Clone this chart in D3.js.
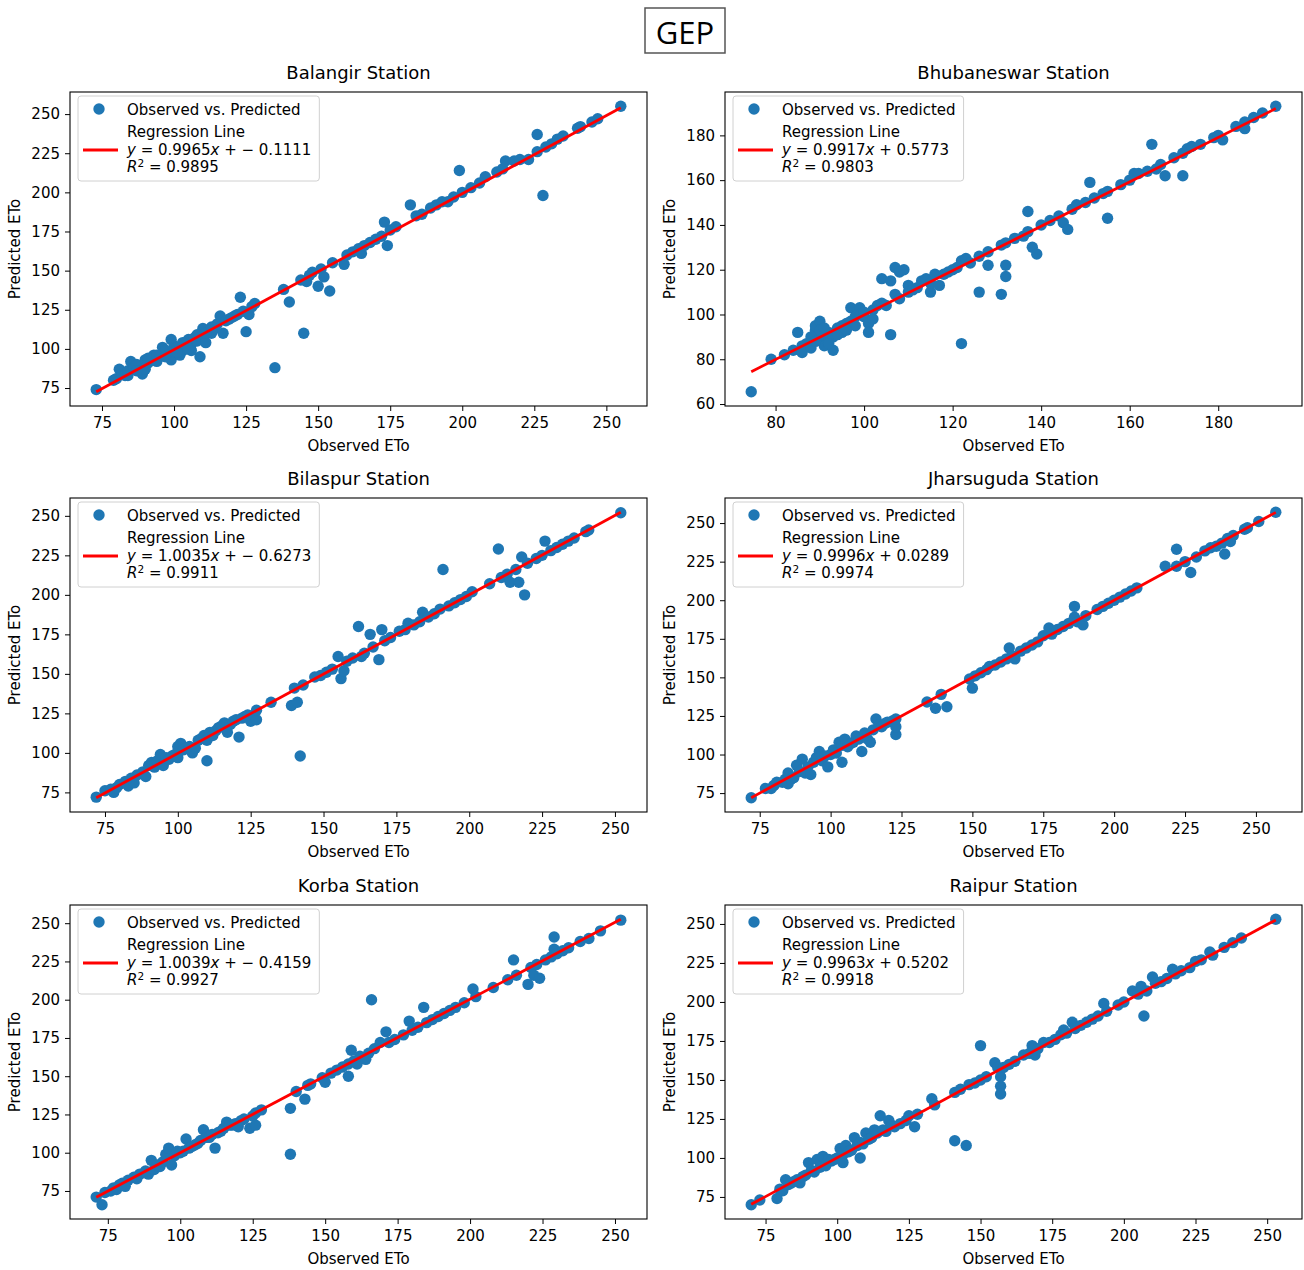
<!DOCTYPE html>
<meta charset='utf-8'>
<title>GEP</title>
<style>
html, body { margin: 0; padding: 0; background: #fff; }
text { font-family: 'DejaVu Sans', sans-serif; fill: #000; }
</style>
<script src='https://cdn.jsdelivr.net/npm/d3@7'></script>
<body>
<svg id='chart' width='1304' height='1270'></svg>
<script>
// Observed vs predicted pairs
var balangir = [[73,74],[79,80],[80,81],[81,87],[82,84],[83,83],[84,86],[85,92],[86,88],[87,90],[88,86],[89,84],[90,87],[90,93],[91,91],[92,93],[93,96],[94,92],[95,95],[96,97],[96,101],[97,99],[98,96],[99,106],[99,93],[100,98],[100,102],[101,101],[102,96],[103,99],[104,104],[105,106],[106,99],[106,103],[107,107],[108,105],[109,95],[110,109],[110,113],[111,104],[112,111],[113,110],[114,113],[115,116],[116,121],[117,110],[118,118],[119,119],[120,120],[121,121],[122,122],[123,133],[124,124],[125,111],[126,122],[127,127],[128,129],[135,88],[138,138],[140,130],[144,144],[145,110],[146,143],[147,147],[148,149],[150,140],[151,151],[152,146],[154,137],[155,155],[159,154],[160,160],[162,162],[164,164],[165,161],[166,166],[168,168],[170,170],[172,172],[173,181],[174,166],[175,176],[177,178],[182,192],[184,185],[186,186],[189,190],[191,192],[193,194],[195,194],[197,197],[199,214],[200,200],[203,203],[206,206],[208,210],[212,213],[214,215],[215,220],[218,220],[220,221],[223,221],[226,237],[226,226],[228,198],[229,229],[231,231],[233,234],[235,236],[240,241],[241,242],[245,245],[247,247],[255,255],
  [84,83],[87,86],[91,94],[94,96],[97,95],[101,98],[103,104],[105,100],[108,109],[111,110],[113,114]];

var bhubaneswar = [[74.5,65.5],[79,80],[82,82],[84,84],[85,92],[86,86],[86,83],[87,87],[88,85],[89,93],[89,95],[90,97],[90,89],[91,91],[91,86],[92,88],[92,92],[93,84],[93,90],[94,94],[95,92],[96,96],[97,97],[97,103],[98,95],[99,103],[99,100],[100,99],[101,96],[101,92],[102,102],[102,98],[103,104],[104,116],[104,105],[105,104],[106,115],[106,91],[107,109],[107,121],[108,119],[108,107],[109,120],[110,113],[110,110],[111,111],[112,112],[113,115],[114,116],[115,110],[115,114],[116,118],[117,113],[118,118],[119,119],[120,120],[121,121],[122,124],[122,87],[123,125],[124,123],[126,110],[126,126],[128,122],[128,128],[131,109],[131,131],[132,122],[132,117],[132,132],[134,134],[136,135],[137,146],[137,137],[138,130],[139,127],[140,140],[142,142],[144,144],[145,141],[146,138],[147,147],[148,149],[150,150],[151,159],[152,152],[154,154],[155,143],[155,155],[158,158],[160,160],[161,163],[162,163],[164,164],[165,176],[166,165],[167,167],[168,162],[170,170],[172,172],[172,162],[173,174],[174,175],[176,176],[179,179],[180,180],[181,178],[184,184],[186,186],[186,183],[188,188],[190,190],[193,193],
  [88,90],[89,88],[90,93],[91,94],[92,87],[94,91],[95,95],[96,93],[98,99],[100,101]];

var bilaspur = [[72,72],[75,76],[77,77],[78,75],[79,78],[80,80],[82,82],[83,79],[84,84],[85,81],[86,86],[88,88],[89,85],[90,92],[91,94],[92,91],[93,95],[94,99],[95,92],[96,97],[97,96],[98,98],[99,99],[100,104],[100,97],[101,106],[102,102],[103,103],[104,104],[105,100],[106,103],[107,108],[108,109],[109,111],[110,95],[110,108],[111,113],[112,111],[113,114],[114,116],[115,117],[116,119],[117,113],[118,118],[119,120],[120,121],[121,110],[122,122],[123,123],[124,124],[125,120],[126,124],[127,121],[127,127],[132,132],[139,130],[140,141],[141,132],[142,98],[143,143],[147,148],[149,149],[151,151],[153,153],[155,161],[156,147],[157,152],[158,158],[160,160],[162,180],[163,161],[164,163],[166,175],[167,167],[169,159],[170,178],[171,171],[173,173],[176,177],[178,178],[179,182],[181,181],[183,183],[184,189],[186,186],[188,188],[190,191],[191,216],[193,193],[195,195],[197,197],[199,199],[201,202],[207,207],[210,229],[211,211],[213,213],[214,208],[216,216],[217,208],[218,224],[219,200],[220,220],[223,223],[225,225],[226,234],[228,228],[230,230],[232,232],[234,234],[236,236],[240,240],[241,241],[252,252]];

var jharsuguda = [[72,72],[77,78],[79,78],[80,80],[81,82],[83,82],[84,84],[85,88],[85,81],[86,84],[87,85],[88,93],[89,89],[90,97],[91,88],[92,92],[93,87],[94,95],[95,98],[96,102],[97,96],[98,99],[99,92],[100,100],[101,103],[102,101],[103,108],[104,95],[104,106],[105,110],[106,105],[107,107],[108,108],[109,112],[110,110],[111,102],[112,114],[113,110],[114,108],[115,116],[116,123],[117,119],[118,118],[119,120],[120,121],[122,122],[123,113],[123,118],[123,123],[134,134],[137,130],[139,139],[141,131],[149,149],[150,143],[151,151],[153,153],[155,155],[156,157],[158,158],[160,160],[162,162],[163,169],[164,164],[165,162],[167,167],[169,169],[171,171],[173,173],[175,177],[177,182],[178,178],[180,181],[182,183],[184,185],[186,196],[186,189],[187,186],[189,184],[190,190],[194,194],[196,196],[198,198],[200,200],[202,202],[204,204],[206,206],[208,208],[218,222],[222,233],[222,222],[225,225],[227,218],[229,228],[232,232],[234,234],[236,235],[238,237],[239,230],[240,240],[241,238],[242,242],[246,246],[247,247],[251,251],[257,257]];

var korba = [[71,71],[73,66],[74,74],[76,75],[77,77],[78,76],[79,79],[80,80],[81,78],[82,82],[84,84],[85,83],[86,86],[88,88],[89,86],[90,95],[91,89],[92,92],[93,91],[94,94],[95,99],[96,103],[97,92],[98,98],[99,101],[100,100],[101,101],[102,109],[103,103],[104,104],[105,105],[106,106],[107,108],[108,115],[109,110],[110,110],[111,112],[112,103],[113,113],[114,114],[115,116],[116,120],[117,118],[118,118],[119,119],[120,117],[121,121],[122,122],[124,116],[125,124],[126,118],[126,126],[128,128],[138,99],[138,129],[140,140],[143,135],[144,144],[145,145],[149,149],[150,146],[152,152],[154,154],[156,156],[158,150],[158,158],[159,167],[160,160],[161,158],[162,163],[164,161],[165,165],[166,200],[167,168],[169,172],[171,179],[172,172],[174,174],[177,177],[179,186],[180,180],[182,182],[184,195],[185,185],[187,187],[189,189],[191,191],[193,193],[195,195],[198,198],[201,207],[202,202],[208,208],[213,213],[215,226],[216,216],[220,210],[221,221],[222,216],[223,223],[224,214],[226,226],[228,228],[229,241],[229,233],[230,230],[232,232],[234,234],[238,238],[241,240],[245,245],[252,252]];

var raipur = [[70,70],[73,73],[79,74],[80,80],[81,79],[82,86],[83,83],[84,84],[85,85],[86,86],[87,84],[88,88],[89,89],[90,97],[91,92],[92,91],[93,99],[94,94],[95,101],[96,95],[97,99],[98,98],[99,99],[100,100],[101,106],[102,102],[102,97],[103,108],[104,104],[105,105],[106,113],[107,108],[108,100],[108,110],[109,109],[110,116],[111,112],[112,113],[113,118],[114,116],[115,127],[116,118],[117,117],[118,124],[119,121],[120,120],[122,122],[124,124],[125,127],[127,120],[128,128],[133,138],[134,134],[141,142],[141,111],[143,144],[145,108],[146,147],[148,148],[150,172],[150,150],[152,152],[155,161],[156,158],[157,152],[157,146],[157,141],[158,158],[160,160],[162,162],[165,166],[167,167],[168,172],[169,166],[170,170],[172,174],[174,174],[176,176],[178,179],[179,182],[180,180],[182,187],[183,183],[185,185],[187,187],[189,189],[191,191],[193,199],[194,194],[198,198],[200,200],[203,207],[205,205],[206,210],[207,191],[208,207],[210,216],[211,212],[213,213],[215,215],[217,221],[218,218],[220,220],[223,222],[225,226],[227,227],[230,232],[231,230],[235,235],[238,238],[241,241],[253,253]];

var stations = ['Balangir', 'Bhubaneswar', 'Bilaspur', 'Jharsuguda', 'Korba', 'Raipur'];
var series = [balangir, bhubaneswar, bilaspur, jharsuguda, korba, raipur];
var slopes = ['0.9965', '0.9917', '1.0035', '0.9996', '1.0039', '0.9963'];
var intercepts = ['−0.1111', '0.5773', '−0.6273', '0.0289', '−0.4159', '0.5202'];
var r2s = ['0.9895', '0.9803', '0.9911', '0.9974', '0.9927', '0.9918'];

var ticks25 = [75, 100, 125, 150, 175, 200, 225, 250];
var xTickSets = [ticks25, [80, 100, 120, 140, 160, 180], ticks25, ticks25, ticks25, ticks25];
var yTickSets = [ticks25, [60, 80, 100, 120, 140, 160, 180], ticks25, ticks25, ticks25, ticks25];

// Layout
var colLeft = [70, 725];
var rowTop = [92, 498, 905];
var boxW = 577, boxH = 314;
var dotColor = '#1f77b4';
var lineColor = '#ff0000';

var svg = d3.select('#chart');

// Suptitle in a box
var gepG = svg.append('g');
gepG.append('rect')
  .attr('x', 645).attr('y', 8).attr('width', 80).attr('height', 45)
  .attr('fill', '#fff').attr('stroke', '#555').attr('stroke-width', 1.5);
gepG.append('text')
  .attr('x', 685).attr('y', 44)
  .attr('text-anchor', 'middle')
  .style('font-family', "'Open Sans', sans-serif")
  .style('font-size', '31px')
  .text('GEP');

stations.forEach(function (name, i) {
  var pts = series[i];
  var slope = +slopes[i];
  var icpt = +intercepts[i].replace('−', '-');
  var left = colLeft[i % 2], top = rowTop[Math.floor(i / 2)];

  var xExt = d3.extent(pts, function (d) { return d[0]; });
  var lineY = xExt.map(function (x) { return slope * x + icpt; });
  var yExt = d3.extent(pts.map(function (d) { return d[1]; }).concat(lineY));
  var xPad = (xExt[1] - xExt[0]) * 0.05, yPad = (yExt[1] - yExt[0]) * 0.05;

  var x = d3.scaleLinear().domain([xExt[0] - xPad, xExt[1] + xPad]).range([0, boxW]);
  var y = d3.scaleLinear().domain([yExt[0] - yPad, yExt[1] + yPad]).range([boxH, 0]);

  var g = svg.append('g').attr('transform', 'translate(' + left + ',' + top + ')');

  g.append('defs').append('clipPath').attr('id', 'clip' + i)
    .append('rect').attr('width', boxW).attr('height', boxH);

  var plot = g.append('g').attr('clip-path', 'url(#clip' + i + ')');

  plot.selectAll('circle')
    .data(pts)
    .enter().append('circle')
    .attr('cx', function (d) { return x(d[0]); })
    .attr('cy', function (d) { return y(d[1]); })
    .attr('r', 5.7)
    .attr('fill', dotColor);

  plot.append('line')
    .attr('x1', x(xExt[0])).attr('y1', y(lineY[0]))
    .attr('x2', x(xExt[1])).attr('y2', y(lineY[1]))
    .attr('stroke', lineColor).attr('stroke-width', 2.8);

  // Axes
  var xAxis = g.append('g').attr('transform', 'translate(0,' + boxH + ')')
    .call(d3.axisBottom(x).tickValues(xTickSets[i]).tickSize(5).tickPadding(6));
  var yAxis = g.append('g')
    .call(d3.axisLeft(y).tickValues(yTickSets[i]).tickSize(5).tickPadding(5));
  [xAxis, yAxis].forEach(function (a) {
    a.select('.domain').remove();
    a.selectAll('.tick line').attr('stroke', '#000').attr('stroke-width', 1);
    a.selectAll('.tick text').style('font-size', '15px').style('font-family', "'DejaVu Sans', sans-serif");
  });

  g.append('rect')
    .attr('width', boxW).attr('height', boxH)
    .attr('fill', 'none').attr('stroke', '#000').attr('stroke-width', 1.1);

  // Titles and labels
  g.append('text')
    .attr('x', boxW / 2).attr('y', -13)
    .attr('text-anchor', 'middle')
    .style('font-size', '18px')
    .text(name + ' Station');

  g.append('text')
    .attr('x', boxW / 2).attr('y', boxH + 45)
    .attr('text-anchor', 'middle')
    .style('font-size', '15px')
    .text('Observed ETo');

  g.append('text')
    .attr('transform', 'translate(-50,' + (boxH / 2) + ')rotate(-90)')
    .attr('text-anchor', 'middle')
    .style('font-size', '15px')
    .text('Predicted ETo');

  // Legend
  var lg = g.append('g').attr('transform', 'translate(8,4)');
  var frame = lg.append('rect')
    .attr('rx', 3).attr('ry', 3)
    .attr('height', 85)
    .attr('fill', '#fff').attr('fill-opacity', 0.8)
    .attr('stroke', '#d0d0d0').attr('stroke-width', 1);

  lg.append('circle').attr('cx', 21).attr('cy', 13).attr('r', 5.7).attr('fill', dotColor);
  var t1 = lg.append('text').attr('x', 49).attr('y', 18.5).style('font-size', '15px')
    .text('Observed vs. Predicted');

  lg.append('line').attr('x1', 5).attr('x2', 40).attr('y1', 54).attr('y2', 54)
    .attr('stroke', lineColor).attr('stroke-width', 2.8);
  lg.append('text').attr('x', 49).attr('y', 40.5).style('font-size', '15px')
    .text('Regression Line');

  var neg = intercepts[i].charAt(0) === '−';
  var eq = lg.append('text').attr('x', 49).attr('y', 58.5).style('font-size', '15px');
  eq.append('tspan').style('font-style', 'italic').text('y');
  eq.append('tspan').text(' = ' + slopes[i]);
  eq.append('tspan').style('font-style', 'italic').text('x');
  eq.append('tspan').text(neg ? ' + − ' + intercepts[i].slice(1) : ' + ' + intercepts[i]);

  var r2 = lg.append('text').attr('x', 49).attr('y', 75.5).style('font-size', '15px');
  r2.append('tspan').style('font-style', 'italic').text('R');
  r2.append('tspan').attr('dy', -5).style('font-size', '10.5px').text('2');
  r2.append('tspan').attr('dy', 5).text(' = ' + r2s[i]);

  var w = Math.max(t1.node().getComputedTextLength(), eq.node().getComputedTextLength());
  frame.attr('width', 49 + w + 8);
});
</script>
</body>
